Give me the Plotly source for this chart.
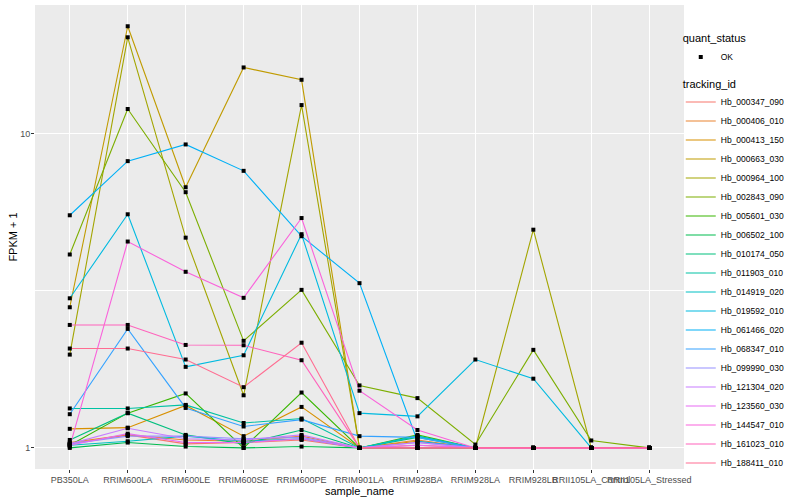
import plotly.graph_objects as go

samples = ["PB350LA", "RRIM600LA", "RRIM600LE", "RRIM600SE", "RRIM600PE", "RRIM901LA",
           "RRIM928BA", "RRIM928LA", "RRIM928LB", "RRII105LA_Control", "RRII105LA_Stressed"]

tracking_ids = ["Hb_000347_090", "Hb_000406_010", "Hb_000413_150", "Hb_000663_030", "Hb_000964_100",
                "Hb_002843_090", "Hb_005601_030", "Hb_006502_100", "Hb_010174_050", "Hb_011903_010",
                "Hb_014919_020", "Hb_019592_010", "Hb_061466_020", "Hb_068347_010", "Hb_099990_030",
                "Hb_121304_020", "Hb_123560_030", "Hb_144547_010", "Hb_161023_010", "Hb_188411_010"]

colors = ["#F8766D", "#EA8331", "#D89000", "#C09B00", "#A3A500", "#7CAE00", "#39B600", "#00BB4E",
          "#00BF7D", "#00C1A3", "#00BFC4", "#00BAE0", "#00B0F6", "#35A2FF", "#9590FF", "#C77CFF",
          "#E76BF3", "#FA62DB", "#FF62BC", "#FF6C91"]

# FPKM + 1 values per tracking_id, in sample order
Hb_000347_090 = [1.03, 1.10, 1.03, 1.04, 1.06, 1.00, 1.02, 1.00, 1.00, 1.00, 1.00]
Hb_000406_010 = [1.04, 1.10, 1.06, 1.05, 1.09, 1.00, 1.06, 1.00, 1.00, 1.00, 1.00]
Hb_000413_150 = [1.15, 1.16, 1.365, 1.09, 1.35, 1.00, 1.05, 1.00, 1.00, 1.00, 1.00]
Hb_000663_030 = [2.80, 21.9, 6.74, 16.2, 14.8, 1.00, 1.00, 1.00, 1.00, 1.00, 1.00]
Hb_000964_100 = [1.98, 20.2, 4.66, 1.47, 12.3, 1.00, 1.00, 1.00, 4.94, 1.00, 1.00]
Hb_002843_090 = [4.12, 11.95, 6.50, 2.19, 3.18, 1.58, 1.44, 1.025, 2.05, 1.056, 1.00]
Hb_005601_030 = [1.02, 1.29, 1.49, 1.00, 1.50, 1.00, 1.10, 1.00, 1.00, 1.00, 1.00]
Hb_006502_100 = [1.00, 1.04, 1.01, 1.00, 1.01, 1.00, 1.00, 1.00, 1.00, 1.00, 1.00]
Hb_010174_050 = [1.06, 1.29, 1.10, 1.03, 1.14, 1.00, 1.08, 1.00, 1.00, 1.00, 1.00]
Hb_011903_010 = [1.335, 1.335, 1.37, 1.20, 1.24, 1.00, 1.09, 1.00, 1.00, 1.00, 1.00]
Hb_014919_020 = [1.02, 1.05, 1.09, 1.05, 1.07, 1.00, 1.09, 1.00, 1.00, 1.00, 1.00]
Hb_019592_010 = [2.99, 5.53, 1.81, 1.97, 4.78, 1.29, 1.26, 1.91, 1.66, 1.00, 1.00]
Hb_061466_020 = [5.49, 8.16, 9.22, 7.60, 4.71, 3.34, 1.05, 1.00, 1.00, 1.00, 1.00]
Hb_068347_010 = [1.28, 2.39, 1.34, 1.17, 1.23, 1.09, 1.08, 1.00, 1.00, 1.00, 1.00]
Hb_099990_030 = [1.03, 1.09, 1.09, 1.07, 1.08, 1.00, 1.04, 1.00, 1.00, 1.00, 1.00]
Hb_121304_020 = [1.03, 1.155, 1.07, 1.06, 1.10, 1.00, 1.04, 1.00, 1.00, 1.00, 1.00]
Hb_123560_030 = [1.02, 1.11, 1.04, 1.04, 1.07, 1.00, 1.02, 1.00, 1.00, 1.00, 1.00]
Hb_144547_010 = [1.01, 4.53, 3.63, 3.00, 5.38, 1.52, 1.14, 1.00, 1.00, 1.00, 1.00]
Hb_161023_010 = [2.46, 2.46, 2.125, 2.12, 1.90, 1.00, 1.00, 1.00, 1.00, 1.00, 1.00]
Hb_188411_010 = [2.07, 2.07, 1.91, 1.56, 2.16, 1.00, 1.00, 1.00, 1.00, 1.00, 1.00]

series = [Hb_000347_090, Hb_000406_010, Hb_000413_150, Hb_000663_030, Hb_000964_100,
          Hb_002843_090, Hb_005601_030, Hb_006502_100, Hb_010174_050, Hb_011903_010,
          Hb_014919_020, Hb_019592_010, Hb_061466_020, Hb_068347_010, Hb_099990_030,
          Hb_121304_020, Hb_123560_030, Hb_144547_010, Hb_161023_010, Hb_188411_010]

FONT = "Liberation Sans, Arial, sans-serif"
fig = go.Figure()

for tid, col, vals in zip(tracking_ids, colors, series):
    fig.add_trace(go.Scatter(x=samples, y=vals, mode="lines", name=tid,
                             line=dict(color=col, width=1.1), legend="legend2",
                             hoverinfo="skip"))

all_x, all_y = [], []
for vals in series:
    all_x.extend(samples)
    all_y.extend(vals)
fig.add_trace(go.Scatter(x=all_x, y=all_y, mode="markers", name="OK",
                         marker=dict(color="black", size=4, symbol="square"),
                         legend="legend"))

fig.update_layout(
    width=800, height=500,
    margin=dict(l=35, r=116, t=5, b=31, autoexpand=False),
    paper_bgcolor="white", plot_bgcolor="#EBEBEB",
    font=dict(family=FONT, size=9, color="#4D4D4D"),
    showlegend=True,
    legend=dict(title=dict(text="quant_status", font=dict(size=11, color="black")),
                x=0.995, xanchor="left", y=0.95, yanchor="top", itemwidth=30,
                font=dict(size=8.5, color="black"), bgcolor="rgba(0,0,0,0)"),
    legend2=dict(title=dict(text="tracking_id", font=dict(size=11, color="black")),
                 x=0.995, xanchor="left", y=0.853, yanchor="top", itemwidth=30,
                 font=dict(size=8.5, color="black"), bgcolor="rgba(0,0,0,0)",
                 tracegroupgap=0),
)
fig.update_xaxes(
    type="category", categoryorder="array", categoryarray=samples,
    range=[-0.6, len(samples) - 0.4], tickangle=0, automargin=False,
    showgrid=True, gridcolor="white", gridwidth=1.1,
    ticks="outside", ticklen=3, tickcolor="#333333", tickwidth=1,
    tickfont=dict(size=9, color="#4D4D4D", family=FONT),
    ticklabelstandoff=-1,
    title=dict(text="sample_name", font=dict(size=11, color="black", family=FONT), standoff=0),
    zeroline=False, showline=False,
)
fig.update_yaxes(
    type="log", range=[-0.067, 1.408], automargin=False,
    tickvals=[1, 10], ticktext=["1", "10"],
    showgrid=True, gridcolor="white", gridwidth=1.1,
    minor=dict(tickvals=[10 ** 0.5], showgrid=True, gridcolor="white", gridwidth=0.55, ticks=""),
    ticks="outside", ticklen=3, tickcolor="#333333", tickwidth=1,
    tickfont=dict(size=9, color="#4D4D4D", family=FONT),
    ticklabelstandoff=-1,
    title=dict(text="FPKM + 1", font=dict(size=11, color="black", family=FONT), standoff=0),
    zeroline=False, showline=False,
)

fig.write_html("out.html", config={"displayModeBar": False},
               post_script="document.body.style.margin='0';document.body.style.padding='0';")
